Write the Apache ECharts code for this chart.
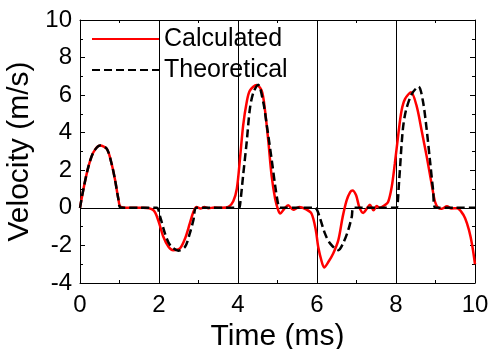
<!DOCTYPE html>
<html>
<head>
<meta charset="utf-8">
<script src="https://cdn.jsdelivr.net/npm/echarts@6/dist/echarts.min.js"></script>
<style>
  html, body { margin: 0; padding: 0; background: #fff; }
  #chart { width: 490px; height: 349px; }
</style>
</head>
<body>
<div id="chart"></div>
<script>
// time in ms, velocity in m/s
const calcTime = [0, 0.08, 0.21, 0.34, 0.51, 0.68, 0.8, 0.89, 0.97, 1.03, 1.3, 1.6, 1.86, 1.98, 2.11, 2.24, 2.36, 2.53, 2.66, 2.78, 2.87, 2.95, 3.05, 3.15, 3.25, 3.4, 3.6, 3.76, 3.88, 3.97, 4.05, 4.13, 4.22, 4.3, 4.47, 4.6, 4.68, 4.77, 4.85, 4.94, 5.02, 5.07, 5.17, 5.27, 5.4, 5.55, 5.7, 5.86, 5.97, 6.03, 6.12, 6.18, 6.29, 6.41, 6.54, 6.65, 6.75, 6.84, 6.9, 6.99, 7.07, 7.17, 7.26, 7.34, 7.43, 7.51, 7.59, 7.72, 7.8, 7.89, 7.97, 8.06, 8.14, 8.23, 8.38, 8.52, 8.65, 8.78, 8.9, 8.99, 9.07, 9.16, 9.29, 9.4, 9.55, 9.65, 9.75, 9.85, 9.93, 10];
const calcVel = [0, 0.93, 2.17, 2.96, 3.32, 3.14, 2.35, 1.46, 0.49, 0.05, 0, 0, -0.13, -0.66, -1.54, -2.07, -2.25, -2.16, -1.63, -0.83, -0.22, 0.05, -0.03, 0.04, -0.02, 0.02, 0, 0.05, 0.35, 1.02, 2.61, 4.38, 5.62, 6.24, 6.54, 6.24, 5.26, 3.5, 1.73, 0.49, -0.13, -0.3, -0.05, 0.14, -0.1, 0.05, -0.05, -0.3, -1.19, -2.07, -2.87, -3.17, -2.87, -2.43, -1.72, -0.48, 0.4, 0.84, 0.93, 0.67, 0.05, -0.27, -0.04, 0.17, -0.13, 0.1, 0, 0.15, 0.31, 1.1, 2.35, 3.94, 5.17, 5.8, 6.15, 5.44, 4.11, 2.7, 1.29, 0.31, 0, -0.05, 0.08, -0.03, -0.02, -0.2, -0.55, -1.2, -2.0, -3.0];

const theoTime = [0, 0.08, 0.21, 0.34, 0.51, 0.68, 0.8, 0.89, 0.97, 1.03, 1.5, 1.94, 2.03, 2.15, 2.28, 2.49, 2.66, 2.78, 2.87, 2.95, 3.3, 3.7, 4.02, 4.05, 4.13, 4.22, 4.3, 4.39, 4.51, 4.64, 4.73, 4.85, 4.94, 5.02, 5.06, 5.5, 5.95, 6.0, 6.08, 6.2, 6.33, 6.54, 6.66, 6.79, 6.88, 6.93, 7.5, 7.99, 8.02, 8.08, 8.17, 8.25, 8.4, 8.57, 8.68, 8.78, 8.86, 8.94, 9.0, 9.5, 10];
const theoVel = [0, 0.93, 2.17, 2.96, 3.32, 3.14, 2.35, 1.46, 0.49, 0.02, 0, 0, -0.48, -1.36, -1.98, -2.28, -2.07, -1.36, -0.66, 0, 0, 0, 0, 0.14, 1.73, 3.5, 5.26, 6.15, 6.55, 5.62, 4.38, 2.61, 1.2, 0.15, 0, 0, 0, -0.1, -0.57, -1.36, -1.89, -2.25, -1.89, -1.19, -0.48, 0, 0, 0, 0, 1.46, 4.11, 5.17, 6.06, 6.45, 5.7, 4.11, 2.52, 0.93, 0, 0, 0];

const seriesNames = ["Calculated", "Theoretical"];
const xTicks = { min: 0, max: 10, interval: 2 };
const yTicks = { min: -4, max: 10, interval: 2 };

const FONT = "'Liberation Sans', Arial, sans-serif";
const chart = echarts.init(document.getElementById("chart"), null, { renderer: "canvas" });

const pairs = (xs, ys) => xs.map((x, i) => [x, ys[i]]);

const frameAxis = (extra) => ({
  type: "value",
  axisLine: { show: true, onZero: false, lineStyle: { color: "#000", width: 1 } },
  axisTick: { show: true, inside: true, length: 5, lineStyle: { color: "#000" } },
  minorTick: { show: true, splitNumber: 2, length: 3, lineStyle: { color: "#000" } },
  splitLine: { show: false },
  ...extra,
});

chart.setOption({
  animation: false,
  backgroundColor: "#fff",
  textStyle: { fontFamily: FONT },
  grid: { left: 80, right: 15, top: 20, bottom: 66, containLabel: false, outerBoundsMode: "none" },
  legend: {
    data: seriesNames,
    orient: "vertical",
    left: 91,
    top: 25,
    padding: 0,
    itemWidth: 67,
    itemHeight: 14,
    itemGap: 3,
    itemStyle: { opacity: 0 },
    textStyle: { fontSize: 25, color: "#000", fontFamily: FONT, lineHeight: 28 },
  },
  xAxis: [
    frameAxis({
      ...xTicks,
      name: "Time (ms)",
      nameLocation: "middle",
      nameGap: 27,
      nameTextStyle: { fontSize: 30, color: "#000", fontFamily: FONT },
      axisLabel: { fontSize: 24, color: "#000", margin: 10, fontFamily: FONT },
      splitLine: { show: true, lineStyle: { color: "#000", width: 1 } },
    }),
    frameAxis({ ...xTicks, position: "top", axisLabel: { show: false } }),
  ],
  yAxis: [
    frameAxis({
      ...yTicks,
      name: "Velocity (m/s)",
      nameLocation: "middle",
      nameGap: 37,
      nameRotate: 90,
      nameTextStyle: { fontSize: 30, color: "#000", fontFamily: FONT },
      axisLabel: { fontSize: 24, color: "#000", margin: 8, fontFamily: FONT },
    }),
    frameAxis({ ...yTicks, position: "right", axisLabel: { show: false } }),
  ],
  series: [
    {
      name: seriesNames[0],
      type: "line",
      data: pairs(calcTime, calcVel),
      smooth: 0.3,
      symbol: "none",
      lineStyle: { color: "#ff0000", width: 2.5 },
      itemStyle: { color: "#ff0000" },
      z: 3,
      markLine: {
        silent: true,
        symbol: "none",
        label: { show: false },
        lineStyle: { color: "#000", width: 1, type: "solid" },
        data: [{ yAxis: 0 }],
        z: 2,
      },
    },
    {
      name: seriesNames[1],
      type: "line",
      data: pairs(theoTime, theoVel),
      smooth: 0.3,
      symbol: "none",
      lineStyle: { color: "#000", width: 2.5, type: [8, 4] },
      itemStyle: { color: "#000" },
      z: 4,
    },
  ],
});
</script>
</body>
</html>
